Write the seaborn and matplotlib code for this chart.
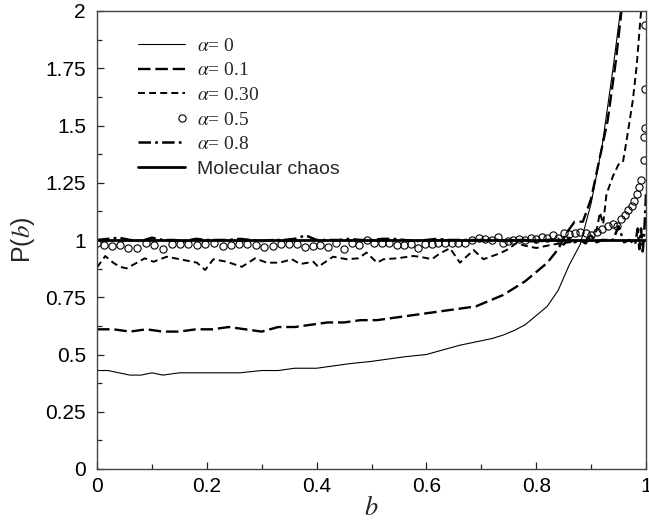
import matplotlib
matplotlib.use("Agg")
import numpy as np
import matplotlib.pyplot as plt
import seaborn as sns
from matplotlib.ticker import FixedLocator, MultipleLocator
from matplotlib.legend_handler import HandlerLine2DCompound

# ---------------- data ----------------
b_a0 = [0.0, 0.02, 0.04, 0.06, 0.08, 0.10, 0.12, 0.15, 0.18, 0.20,
        0.23, 0.26, 0.30, 0.33, 0.36, 0.40, 0.43, 0.46, 0.50, 0.53,
        0.56, 0.60, 0.63, 0.66, 0.70, 0.72, 0.74, 0.76, 0.78, 0.80,
        0.82, 0.84, 0.86, 0.88, 0.90, 0.92, 0.94, 0.955]
p_a0 = [0.43, 0.43, 0.42, 0.41, 0.41, 0.42, 0.41, 0.42, 0.42, 0.42,
        0.42, 0.42, 0.43, 0.43, 0.44, 0.44, 0.45, 0.46, 0.47, 0.48,
        0.49, 0.50, 0.52, 0.54, 0.56, 0.57, 0.585, 0.605, 0.63, 0.67,
        0.71, 0.78, 0.89, 0.98, 1.16, 1.41, 1.75, 2.03]

b_a1 = [0.0, 0.03, 0.06, 0.09, 0.12, 0.15, 0.18, 0.21, 0.24, 0.27,
        0.30, 0.33, 0.36, 0.39, 0.42, 0.45, 0.48, 0.51, 0.54, 0.57,
        0.60, 0.63, 0.66, 0.69, 0.72, 0.74, 0.76, 0.78, 0.80, 0.82,
        0.84, 0.855, 0.87, 0.885, 0.90, 0.915, 0.93, 0.945, 0.96]
p_a1 = [0.61, 0.61, 0.60, 0.61, 0.60, 0.60, 0.61, 0.61, 0.62, 0.61,
        0.60, 0.62, 0.62, 0.63, 0.64, 0.64, 0.65, 0.65, 0.66, 0.67,
        0.68, 0.69, 0.70, 0.71, 0.74, 0.76, 0.79, 0.82, 0.86, 0.90,
        0.96, 1.03, 1.08, 1.08, 1.18, 1.35, 1.52, 1.78, 2.10]

b_a3 = [0.0, 0.015, 0.03, 0.042, 0.054, 0.087, 0.103, 0.127, 0.151, 0.182,
        0.197, 0.212, 0.236, 0.264, 0.288, 0.309, 0.333, 0.355, 0.37, 0.394,
        0.403, 0.43, 0.455, 0.476, 0.491, 0.51, 0.522, 0.546, 0.576, 0.588,
        0.61, 0.625, 0.643, 0.661, 0.686, 0.704, 0.734, 0.746, 0.764, 0.78,
        0.80, 0.83, 0.86, 0.89, 0.905, 0.91, 0.916, 0.922, 0.928, 0.94,
        0.95, 0.958, 0.965, 0.976, 0.983, 0.99, 0.996]
p_a3 = [0.88, 0.93, 0.90, 0.883, 0.876, 0.92, 0.905, 0.927, 0.916, 0.901,
        0.869, 0.916, 0.905, 0.883, 0.92, 0.901, 0.901, 0.916, 0.895, 0.905,
        0.883, 0.927, 0.916, 0.92, 0.945, 0.901, 0.916, 0.92, 0.93, 0.927,
        0.916, 0.942, 0.964, 0.901, 0.956, 0.916, 0.942, 0.956, 0.986, 0.975,
        0.965, 0.98, 0.99, 1.0, 1.03, 1.04, 1.12, 1.07, 1.2, 1.28,
        1.33, 1.34, 1.44, 1.61, 1.76, 1.97, 2.12]

b_a5 = [0.0, 0.013, 0.027, 0.042, 0.057, 0.072, 0.089, 0.104, 0.12, 0.136,
        0.151, 0.166, 0.182, 0.197, 0.214, 0.229, 0.244, 0.259, 0.274, 0.29,
        0.305, 0.32, 0.335, 0.35, 0.364, 0.379, 0.393, 0.406, 0.421, 0.436,
        0.45, 0.464, 0.478, 0.491, 0.505, 0.519, 0.532, 0.546, 0.559, 0.572,
        0.585, 0.597, 0.61, 0.622, 0.634, 0.646, 0.658, 0.67, 0.683, 0.695,
        0.707, 0.719, 0.731, 0.74, 0.749, 0.758, 0.768,
        0.78, 0.79, 0.80, 0.81, 0.82, 0.83, 0.84, 0.85, 0.86, 0.87,
        0.88, 0.89, 0.90, 0.91, 0.92, 0.93, 0.94, 0.948, 0.955, 0.962,
        0.968, 0.974, 0.979, 0.984, 0.988, 0.991, 0.996, 0.997, 0.998, 0.998, 0.999]
p_a5 = [0.985, 0.978, 0.975, 0.978, 0.964, 0.964, 0.988, 0.978, 0.959, 0.983,
        0.983, 0.983, 0.978, 0.983, 0.985, 0.974, 0.978, 0.983, 0.983, 0.978,
        0.971, 0.974, 0.983, 0.983, 0.983, 0.971, 0.974, 0.978, 0.971, 0.985,
        0.959, 0.988, 0.978, 1.0, 0.988, 0.988, 0.988, 0.978, 0.978, 0.983,
        0.964, 0.983, 0.983, 0.988, 0.988, 0.988, 0.988, 0.985, 1.0, 1.007,
        1.003, 1.0, 1.011, 0.988, 0.997, 1.0, 1.003,
        1.0, 1.01, 1.005, 1.015, 1.01, 1.02, 1.01, 1.03, 1.025, 1.03,
        1.035, 1.03, 1.02, 1.035, 1.05, 1.06, 1.07, 1.06, 1.09, 1.11,
        1.13, 1.15, 1.17, 1.20, 1.23, 1.26, 1.35, 1.45, 1.49, 1.66, 1.94]

b_a8 = [0.0, 0.02, 0.04, 0.06, 0.08, 0.10, 0.12, 0.14, 0.16, 0.18,
        0.20, 0.22, 0.24, 0.26, 0.28, 0.30, 0.32, 0.34, 0.36, 0.38,
        0.40, 0.42, 0.44, 0.46, 0.48, 0.50, 0.52, 0.54, 0.56, 0.58,
        0.60, 0.62, 0.64, 0.66, 0.68, 0.70, 0.72, 0.74, 0.76, 0.78,
        0.80, 0.82, 0.84, 0.85, 0.86, 0.87, 0.88, 0.89, 0.90, 0.91,
        0.92, 0.93, 0.94, 0.95, 0.96, 0.97, 0.98, 0.985, 0.988, 0.991,
        0.994, 0.997, 1.0]
p_a8 = [1.00, 1.005, 1.01, 1.00, 0.995, 1.01, 1.00, 1.00, 0.995, 1.005,
        1.00, 1.00, 1.00, 1.005, 1.00, 0.995, 1.00, 1.00, 1.005, 1.02,
        1.00, 1.00, 1.00, 1.005, 1.00, 1.00, 1.005, 1.005, 1.00, 0.995,
        1.00, 1.005, 1.00, 1.00, 1.00, 1.00, 1.005, 0.995, 1.00, 1.00,
        0.99, 1.00, 1.005, 0.98, 1.01, 0.99, 1.00, 0.985, 1.02, 0.99,
        1.00, 1.00, 1.00, 1.06, 0.99, 1.00, 0.98, 1.05, 0.96, 1.05,
        0.95, 1.04, 1.20]

b_mc = [0.0, 1.0]
p_mc = [1.0, 1.0]

labels = [r"$\alpha$= 0", r"$\alpha$= 0.1", r"$\alpha$= 0.30",
          r"$\alpha$= 0.5", r"$\alpha$= 0.8", "Molecular chaos"]
x_ticks = [0, 0.2, 0.4, 0.6, 0.8, 1]
x_ticklabels = ["0", "0.2", "0.4", "0.6", "0.8", "1"]
y_ticks = [0, 0.25, 0.5, 0.75, 1, 1.25, 1.5, 1.75, 2]
y_ticklabels = ["0", "0.25", "0.5", "0.75", "1", "1.25", "1.5", "1.75", "2"]


class RightMarkerHandler(HandlerLine2DCompound):
    """Legend handler that puts the single marker near the right end."""
    def get_xdata(self, legend, xdescent, ydescent, width, height, fontsize):
        xdata, _ = super().get_xdata(legend, xdescent, ydescent, width, height, fontsize)
        return xdata, np.array([-xdescent + 0.93 * width])


# ---------------- style ----------------
sns.set_theme(style="white")
plt.rcParams["font.family"] = ["Liberation Sans", "DejaVu Sans"]
plt.rcParams["mathtext.fontset"] = "stix"
plt.rcParams["lines.scale_dashes"] = False

fig = plt.figure(figsize=(6.49, 5.23), dpi=100)
ax = fig.add_axes([97 / 649, 1 - 469 / 523, 549 / 649, 458 / 523])

sns.lineplot(x=b_a0, y=p_a0, ax=ax, color="black", lw=0.8, label=labels[0],
             sort=False, estimator=None)
sns.lineplot(x=b_a1, y=p_a1, ax=ax, color="black", lw=1.7, label=labels[1],
             sort=False, estimator=None, linestyle=(0, (9, 3.5)))
sns.lineplot(x=b_a3, y=p_a3, ax=ax, color="black", lw=1.4, label=labels[2],
             sort=False, estimator=None, linestyle=(0, (5, 3)))
sns.lineplot(x=b_a5, y=p_a5, ax=ax, color="black", lw=0, label=labels[3],
             sort=False, estimator=None, marker="o", markersize=5.2,
             markerfacecolor="none", markeredgecolor="black", markeredgewidth=0.8)
sns.lineplot(x=b_a8, y=p_a8, ax=ax, color="black", lw=1.8, label=labels[4],
             sort=False, estimator=None, linestyle=(0, (9, 3, 2, 3)))
sns.lineplot(x=b_mc, y=p_mc, ax=ax, color="black", lw=2.0, label=labels[5],
             sort=False, estimator=None)

ax.set_xlim(0, 1)
ax.set_ylim(0, 2)
ax.xaxis.set_major_locator(FixedLocator(x_ticks))
ax.set_xticklabels(x_ticklabels)
ax.yaxis.set_major_locator(FixedLocator(y_ticks))
ax.set_yticklabels(y_ticklabels)
ax.xaxis.set_minor_locator(MultipleLocator(0.1))
ax.yaxis.set_minor_locator(MultipleLocator(0.125))
ax.tick_params(which="both", direction="in", top=False, right=False,
               left=True, bottom=True, colors="#222222", labelcolor="black")
ax.tick_params(which="major", length=5, width=0.9, labelsize=15)
ax.tick_params(axis="y", which="major", pad=8)
ax.tick_params(axis="x", which="major", pad=6)
ax.tick_params(which="minor", length=3.5, width=0.9)
for sp in ax.spines.values():
    sp.set_visible(True)
    sp.set_color("#444444")
    sp.set_linewidth(1.0)

ax.set_xlabel(r"$b$", fontsize=19, labelpad=0)
ax.set_ylabel(r"P($b$)", fontsize=18, labelpad=6)

handles, labs = ax.get_legend_handles_labels()
leg = ax.legend(handles, labs, loc="upper left", bbox_to_anchor=(0.075, 0.943),
                frameon=False, fontsize=14, handlelength=2.4, handletextpad=0.6,
                labelspacing=0.36, borderpad=0, borderaxespad=0, numpoints=1,
                handler_map={handles[3]: RightMarkerHandler()})
for t in leg.get_texts()[:5]:
    t.set_fontfamily(["Liberation Serif", "DejaVu Serif"])

fig.savefig("out.png", dpi=100)
